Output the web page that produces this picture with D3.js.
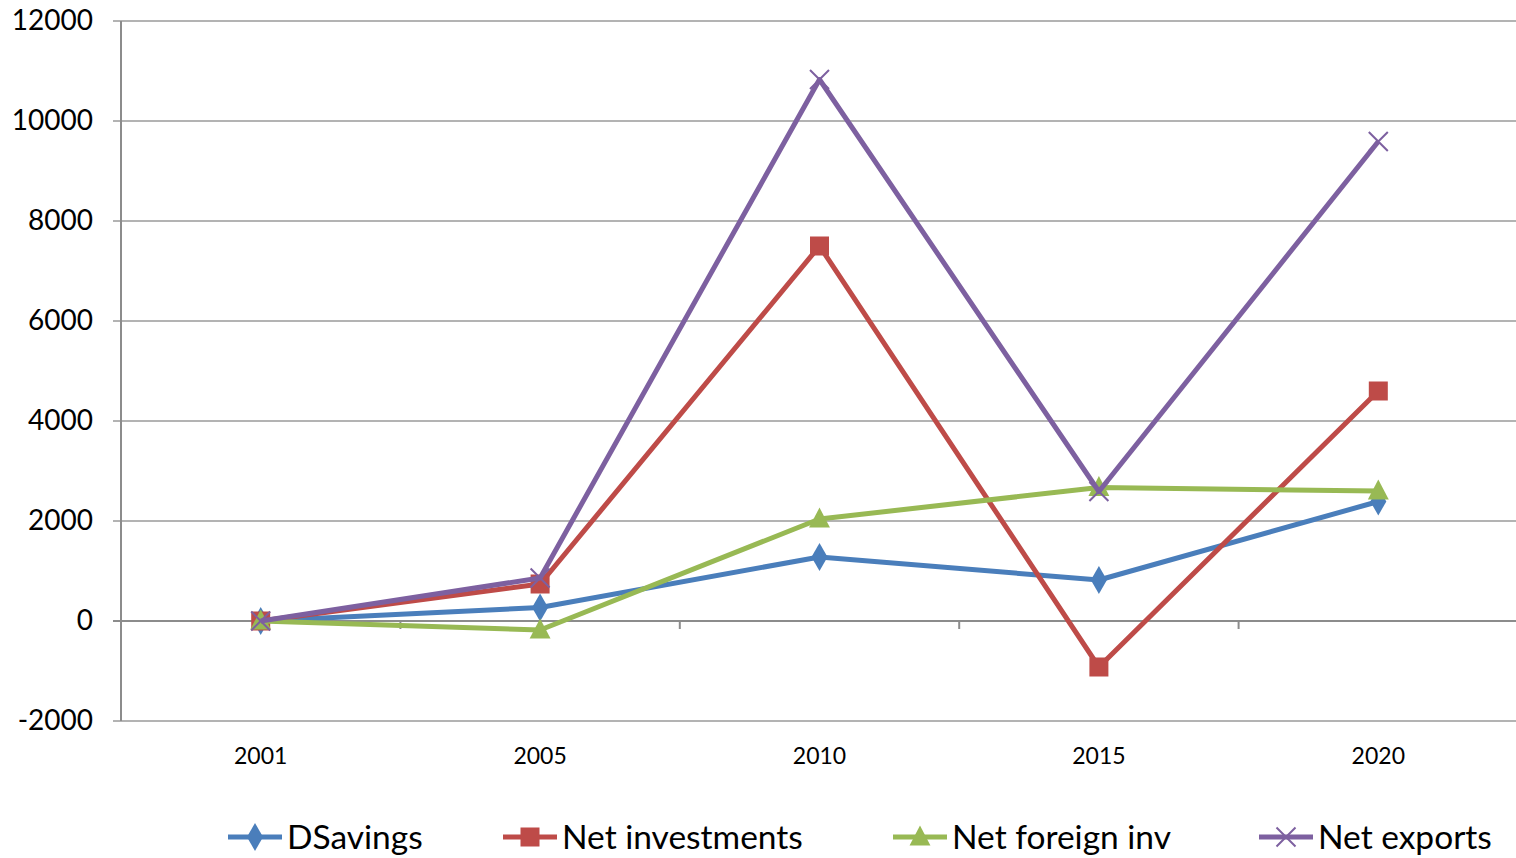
<!DOCTYPE html>
<html><head><meta charset="utf-8">
<script src="https://cdn.jsdelivr.net/npm/d3@7"></script>
<style>body{margin:0;background:#fff}svg{display:block}</style>
</head><body>
<svg id="c" width="1516" height="858"></svg>
<script>
const years = ["2001","2005","2010","2015","2020"];
const seriesNames = ["DSavings","Net investments","Net foreign inv","Net exports"];
const dSavings = [0, 270, 1280, 820, 2390];
const netInvestments = [0, 740, 7500, -920, 4600];
const netForeignInv = [0, -180, 2040, 2670, 2600];
const netExports = [0, 860, 10830, 2590, 9590];
const yTicks = [-2000, 0, 2000, 4000, 6000, 8000, 10000, 12000];

const colors = ["#4A7EBB","#BE4B48","#98B954","#7D60A0"];
const markers = ["diamond","square","triangle","x"];
const data = [dSavings, netInvestments, netForeignInv, netExports];

const svg = d3.select("#c");
const font = "Lato, 'Open Sans', sans-serif";
const x = d3.scaleBand().domain(years).range([121, 1518]);
const y = d3.scaleLinear().domain([-2000, 12000]).range([721, 21]);

// gridlines
svg.append("g").selectAll("line").data(yTicks).join("line")
  .attr("x1", 113).attr("x2", 1516)
  .attr("y1", d => y(d)).attr("y2", d => y(d))
  .attr("stroke", d => d === 0 ? "#8c8c8c" : "#b3b3b3").attr("stroke-width", 2);

// y axis
const yAxis = svg.append("g").attr("transform", "translate(121,0)")
  .call(d3.axisLeft(y).tickValues(yTicks).tickSize(0).tickPadding(28).tickFormat(d => String(d)));
yAxis.select(".domain").remove();
yAxis.selectAll("text").attr("font-family", font).attr("font-size", 28).attr("fill", "#000");
svg.append("line").attr("x1", 121).attr("x2", 121).attr("y1", y(12000)).attr("y2", y(-2000))
  .attr("stroke", "#8c8c8c").attr("stroke-width", 2);

// x axis at zero
const xAxis = svg.append("g").attr("transform", `translate(0,${y(0)})`)
  .call(d3.axisBottom(x).tickSize(0).tickFormat(""));
xAxis.select(".domain").remove();
const bounds = years.map(d => x(d)).slice(1);
svg.append("g").selectAll("line").data(bounds).join("line")
  .attr("x1", d => d).attr("x2", d => d).attr("y1", y(0)).attr("y2", y(0) + 8)
  .attr("stroke", "#8c8c8c").attr("stroke-width", 2);
// category labels
svg.append("g").selectAll("text").data(years).join("text")
  .attr("x", d => x(d) + x.bandwidth() / 2).attr("y", 764)
  .attr("text-anchor", "middle").attr("font-family", font).attr("font-size", 23)
  .attr("fill", "#000").text(d => d);

function drawMarker(g, type, color, size) {
  if (type === "diamond") {
    g.append("path").attr("d", d3.symbol(d3.symbolDiamond, size * size * 0.62)()).attr("fill", color);
  } else if (type === "square") {
    g.append("rect").attr("x", -size/2).attr("y", -size/2).attr("width", size).attr("height", size).attr("fill", color);
  } else if (type === "triangle") {
    g.append("path").attr("d", `M0,${-size*0.6}L${size*0.55},${size*0.45}L${-size*0.55},${size*0.45}Z`).attr("fill", color);
  } else {
    const s = size / 2;
    g.append("path").attr("d", `M${-s},${-s}L${s},${s}M${-s},${s}L${s},${-s}`)
      .attr("stroke", color).attr("stroke-width", 2).attr("fill", "none");
  }
}

const line = d3.line().x((d, i) => x(years[i]) + x.bandwidth() / 2).y(d => y(d));
data.forEach((vals, si) => {
  const g = svg.append("g");
  g.append("path").datum(vals).attr("d", line).attr("fill", "none")
    .attr("stroke", colors[si]).attr("stroke-width", 5).attr("stroke-linejoin", "round");
  vals.forEach((v, i) => {
    const m = g.append("g").attr("transform", `translate(${x(years[i]) + x.bandwidth()/2},${y(v)})`);
    drawMarker(m, markers[si], colors[si], 19);
  });
});

// legend
const legX = [228, 503, 893, 1259];
const legY = 837;
seriesNames.forEach((name, i) => {
  const g = svg.append("g");
  g.append("line").attr("x1", legX[i]).attr("x2", legX[i] + 54).attr("y1", legY).attr("y2", legY)
    .attr("stroke", colors[i]).attr("stroke-width", 5);
  const m = g.append("g").attr("transform", `translate(${legX[i] + 27},${legY})`);
  drawMarker(m, markers[i], colors[i], 19);
  g.append("text").attr("x", legX[i] + 59).attr("y", legY + 12)
    .attr("font-family", font).attr("font-size", 33.5).attr("fill", "#000").text(name);
});
</script>
</body></html>
